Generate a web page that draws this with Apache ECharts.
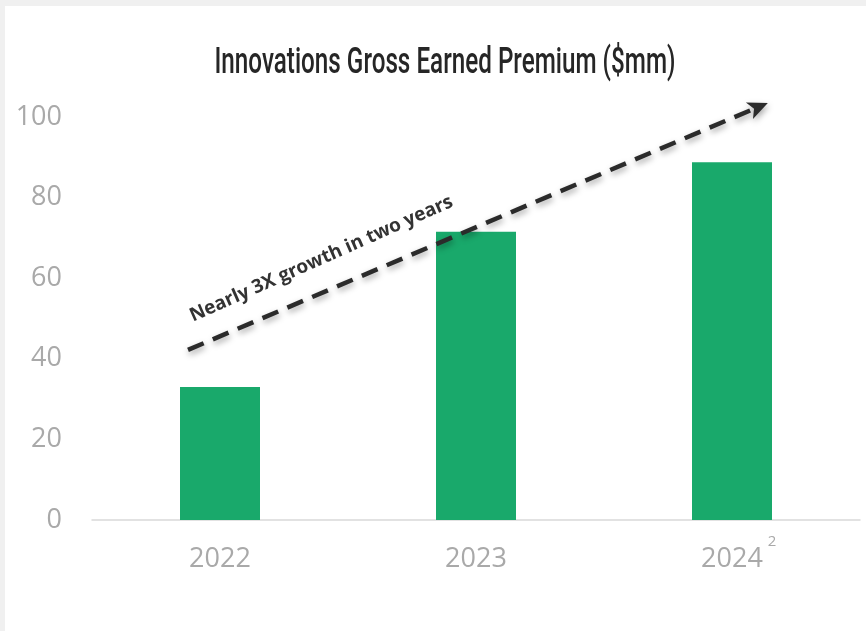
<!DOCTYPE html>
<html>
<head>
<meta charset="utf-8">
<style>
  html, body { margin: 0; padding: 0; background: #f0f0f0; }
  #chart { width: 866px; height: 631px; }
</style>
<script src="https://cdn.jsdelivr.net/npm/echarts@6/dist/echarts.min.js"></script>
</head>
<body>
<div id="chart"></div>
<script>
// Gross earned premium by year, $mm
const years = ['2022', '2023', '2024'];
const premium = [33, 71.5, 88.8];
const yMin = 0, yMax = 100, yStep = 20;

const chartTitle = 'Innovations Gross Earned Premium ($mm)';

// Footnote marker attached to a year label
const footnoteYear = '2024';
const footnoteMark = '2';

// Trend arrow, in data units: [category position, value]
const trendFrom = [-0.125, 42.2];
const trendTo = [2.14, 103.5];
const trendNote = 'Nearly 3X growth in two years';
const trendNoteAt = [0.396, 64.8];

const chart = echarts.init(document.getElementById('chart'), null, { renderer: 'canvas' });

const axisFont = "'Open Sans', 'Noto Sans', sans-serif";
const titleFont = "500 37px Roboto, 'Liberation Sans', sans-serif";
const labelGray = '#a9a9a9';

// Condensed look for the title: squeeze the text horizontally to its set width
function titleScale(widthPx) {
  const ctx = document.createElement('canvas').getContext('2d');
  ctx.font = titleFont;
  return widthPx / ctx.measureText(chartTitle).width;
}

const pageRect = {
  type: 'rect',
  z: -10,
  shape: { x: 5, y: 6, width: 866, height: 631 },
  style: { fill: '#ffffff' },
  silent: true
};

const titleText = {
  type: 'text',
  z: 50,
  x: 445,
  y: 64,
  scaleX: titleScale(461),
  style: {
    text: chartTitle,
    fill: '#262626',
    font: titleFont,
    align: 'center',
    verticalAlign: 'middle'
  }
};

chart.setOption({
  backgroundColor: '#f0f0f0',
  animation: false,
  grid: { left: 92, right: 6, top: 117, bottom: 111, containLabel: false },
  xAxis: {
    type: 'category',
    data: years,
    axisLine: { lineStyle: { color: '#d9d9d9', width: 1.5 } },
    axisTick: { show: false },
    axisLabel: {
      margin: 26,
      fontFamily: axisFont,
      fontSize: 27,
      color: labelGray
    }
  },
  yAxis: {
    type: 'value',
    min: yMin,
    max: yMax,
    interval: yStep,
    splitLine: { show: false },
    axisLine: { show: false },
    axisTick: { show: false },
    axisLabel: {
      margin: 30,
      fontFamily: axisFont,
      fontSize: 27,
      color: labelGray
    }
  },
  series: [{
    type: 'bar',
    data: premium,
    barWidth: 80,
    itemStyle: { color: '#19a96b' }
  }],
  graphic: [pageRect, titleText]
});

// Map [category position, value] to pixels; positions between categories are interpolated
function toPixel(pt) {
  const c0 = chart.convertToPixel({ gridIndex: 0 }, [0, pt[1]]);
  const c1 = chart.convertToPixel({ gridIndex: 0 }, [1, pt[1]]);
  return [c0[0] + (c1[0] - c0[0]) * pt[0], c0[1]];
}

// Dashed trend arrow, its note, and the footnote marker
function drawOverlays() {
  const p0 = toPixel(trendFrom);
  const p1 = toPixel(trendTo);
  const pt = toPixel(trendNoteAt);
  const dx = p1[0] - p0[0], dy = p1[1] - p0[1];
  const len = Math.sqrt(dx * dx + dy * dy);
  const ux = dx / len, uy = dy / len;
  const headLen = 20, headHalf = 9;
  const base = [p1[0] - ux * headLen, p1[1] - uy * headLen];
  const nx = -uy, ny = ux;
  const angle = Math.atan2(-dy, dx);
  const shadow = { shadowBlur: 6, shadowColor: 'rgba(0,0,0,0.35)', shadowOffsetY: 3, shadowOffsetX: 1 };

  const fnPos = toPixel([years.indexOf(footnoteYear), yMin]);

  chart.setOption({
    graphic: [pageRect, titleText, {
      type: 'line',
      z: 50,
      shape: { x1: p0[0], y1: p0[1], x2: base[0] + ux * 2, y2: base[1] + uy * 2 },
      style: Object.assign({ stroke: '#2b2b2b', lineWidth: 4.5, lineDash: [17, 10] }, shadow)
    }, {
      type: 'polygon',
      z: 50,
      shape: {
        points: [
          [p1[0], p1[1]],
          [base[0] + nx * headHalf, base[1] + ny * headHalf],
          [base[0] + ux * 5, base[1] + uy * 5],
          [base[0] - nx * headHalf, base[1] - ny * headHalf]
        ]
      },
      style: Object.assign({ fill: '#2b2b2b' }, shadow)
    }, {
      type: 'text',
      z: 50,
      x: pt[0],
      y: pt[1],
      rotation: angle + 0.015,
      style: {
        text: trendNote,
        fill: '#333333',
        font: "bold 19px 'Open Sans', 'Noto Sans', sans-serif",
        align: 'center',
        verticalAlign: 'middle'
      }
    }, {
      type: 'text',
      z: 50,
      x: fnPos[0] + 40,
      y: fnPos[1] + 22,
      style: {
        text: footnoteMark,
        fill: labelGray,
        font: "15px 'Open Sans', 'Noto Sans', sans-serif",
        align: 'center',
        verticalAlign: 'middle'
      }
    }]
  });
}
drawOverlays();
</script>
</body>
</html>
